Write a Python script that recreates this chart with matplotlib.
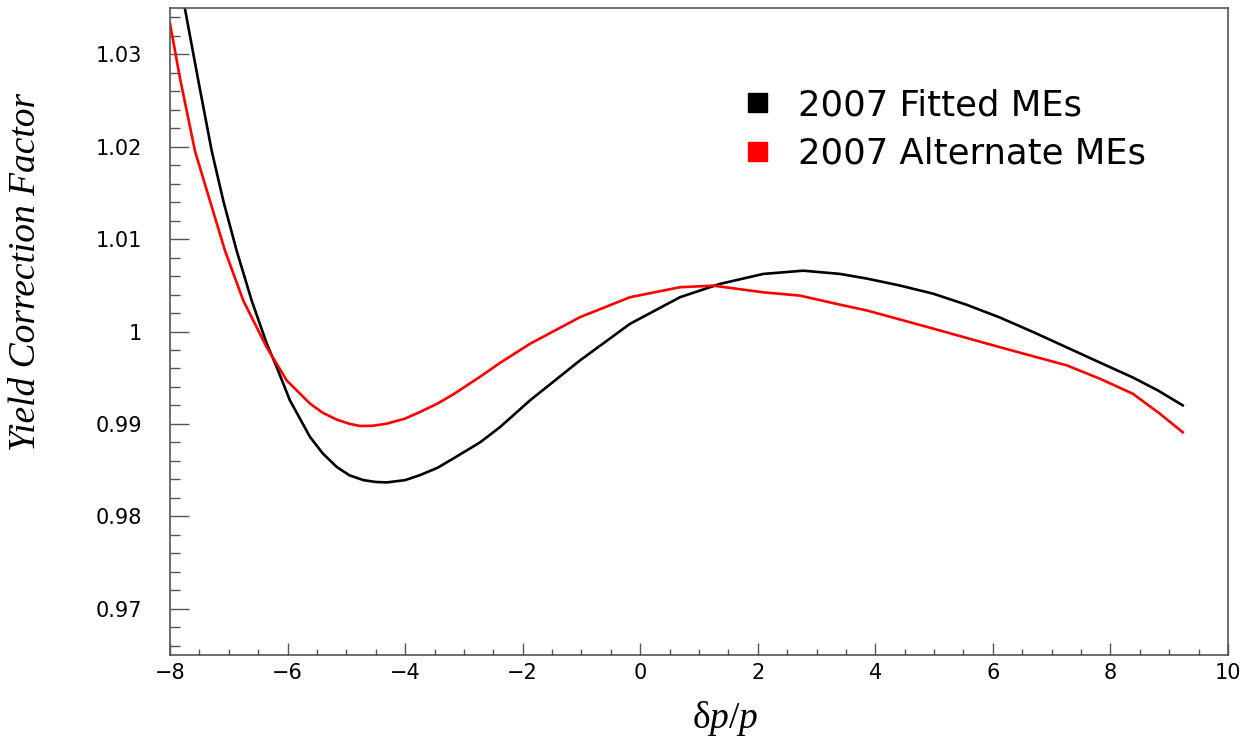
import matplotlib
matplotlib.use("Agg")
import matplotlib.pyplot as plt
from matplotlib.patches import Patch
from matplotlib.ticker import MultipleLocator

# ---- data ----
fitted_x = [-8.0, -7.745, -7.52, -7.29, -7.093, -6.866, -6.61, -6.355, -6.185, -5.96,
            -5.618, -5.4, -5.164, -4.95, -4.71, -4.5, -4.313, -4.0, -3.747, -3.45, -3.18, -2.726, -2.386, -1.875, -1.025,
            -0.174, 0.677, 1.357, 2.095, 2.775, 3.40, 3.86, 4.4, 4.98, 5.55, 6.12, 6.7,
            7.26, 7.8, 8.38, 8.8, 9.23]
fitted_y = [1.0445, 1.0349, 1.0272, 1.01953, 1.01414, 1.00874, 1.00334, 0.99870, 0.99615, 0.99255,
            0.98859, 0.98680, 0.98535, 0.98445, 0.98392, 0.98372, 0.98367, 0.98392, 0.98446, 0.98525, 0.98626, 0.98800, 0.98965, 0.99255, 0.99687,
            1.00083, 1.00371, 1.00515, 1.00623, 1.00658, 1.00623, 1.00572, 1.00500, 1.00410, 1.00290, 1.00151, 0.99990,
            0.99827, 0.99670, 0.99503, 0.99365, 0.99201]

alt_x = [-8.0, -7.83, -7.575, -7.32, -7.064, -6.753, -6.355, -6.015, -5.618, -5.4, -5.164,
         -4.95, -4.768, -4.55, -4.313, -4.0, -3.747, -3.45, -3.18, -2.726, -2.386, -1.875, -1.025, -0.174, 0.677,
         1.243, 2.095, 2.72, 3.40, 3.86, 4.98, 6.12, 7.26, 7.82, 8.38, 8.84, 9.23]
alt_y = [1.03334, 1.0274, 1.01953, 1.01414, 1.00874, 1.00334, 0.99830, 0.99471, 0.99220, 0.99120, 0.99047,
         0.99002, 0.98978, 0.98980, 0.99003, 0.99058, 0.99129, 0.99220, 0.99320, 0.99510, 0.99660, 0.99867, 1.00155, 1.00371, 1.00479,
         1.00496, 1.00424, 1.00388, 1.00290, 1.00227, 1.00032, 0.99830, 0.99633, 0.99489, 0.99327, 0.99111, 0.98910]

series_labels = ["2007 Fitted MEs", "2007 Alternate MEs"]
series_colors = ["#000000", "#ff0000"]
x_ticks = [-8, -6, -4, -2, 0, 2, 4, 6, 8, 10]
y_ticks = [0.97, 0.98, 0.99, 1.00, 1.01, 1.02, 1.03]
y_tick_labels = ["0.97", "0.98", "0.99", "1", "1.01", "1.02", "1.03"]

W, H = 1247, 739
fig = plt.figure(figsize=(W / 100, H / 100), dpi=100)
ax = fig.add_axes([170 / W, 1 - 655 / H, (1228 - 170) / W, (655 - 8) / H])

ax.plot(fitted_x, fitted_y, color=series_colors[0], lw=1.9, solid_joinstyle="round")
ax.plot(alt_x, alt_y, color=series_colors[1], lw=1.9, solid_joinstyle="round")

ax.set_xlim(-8, 10)
ax.set_ylim(0.965, 1.035)

ax.set_xticks(x_ticks)
ax.set_xticklabels(["\u2212" + str(-v) if v < 0 else str(v) for v in x_ticks])
ax.set_yticks(y_ticks)
ax.set_yticklabels(y_tick_labels)
ax.xaxis.set_minor_locator(MultipleLocator(0.5))
ax.yaxis.set_minor_locator(MultipleLocator(0.002))

tick_col = "#555555"
ax.tick_params(axis="y", which="major", direction="in", length=13.5, width=1.0,
               color=tick_col, pad=20, labelsize=15)
ax.tick_params(axis="y", which="minor", direction="in", length=7.2, width=1.0, color=tick_col)
ax.tick_params(axis="x", which="major", direction="in", length=8.6, width=1.0,
               color=tick_col, pad=6, labelsize=15)
ax.tick_params(axis="x", which="minor", direction="in", length=4.3, width=1.0, color=tick_col)
for lab in ax.get_xticklabels() + ax.get_yticklabels():
    lab.set_family("DejaVu Sans")

for s in ax.spines.values():
    s.set_color("#555555")
    s.set_linewidth(1.2)

fig.text(26 / W, 1 - 272 / H, "Yield Correction Factor", rotation=90,
         family="Liberation Serif", style="italic", fontsize=27,
         ha="center", va="center")

plt.rcParams["mathtext.fontset"] = "custom"
plt.rcParams["mathtext.rm"] = "Liberation Serif"
plt.rcParams["mathtext.it"] = "Liberation Serif:italic"
fig.text(725 / W, 1 - 718 / H, r"$\mathrm{\delta}p/p$",
         family="Liberation Serif", fontsize=27, ha="center", va="center")

handles = [Patch(facecolor=c, edgecolor=c) for c in series_colors]
leg = ax.legend(handles, series_labels, loc="upper left",
                bbox_to_anchor=(748 / W, 1 - 88 / H), bbox_transform=fig.transFigure,
                frameon=False, prop={"family": "DejaVu Sans", "size": 25.5},
                handlelength=0.55, handleheight=0.45, handletextpad=0.85,
                labelspacing=0.42, borderpad=0, borderaxespad=0)

fig.savefig("out.png", dpi=100)
